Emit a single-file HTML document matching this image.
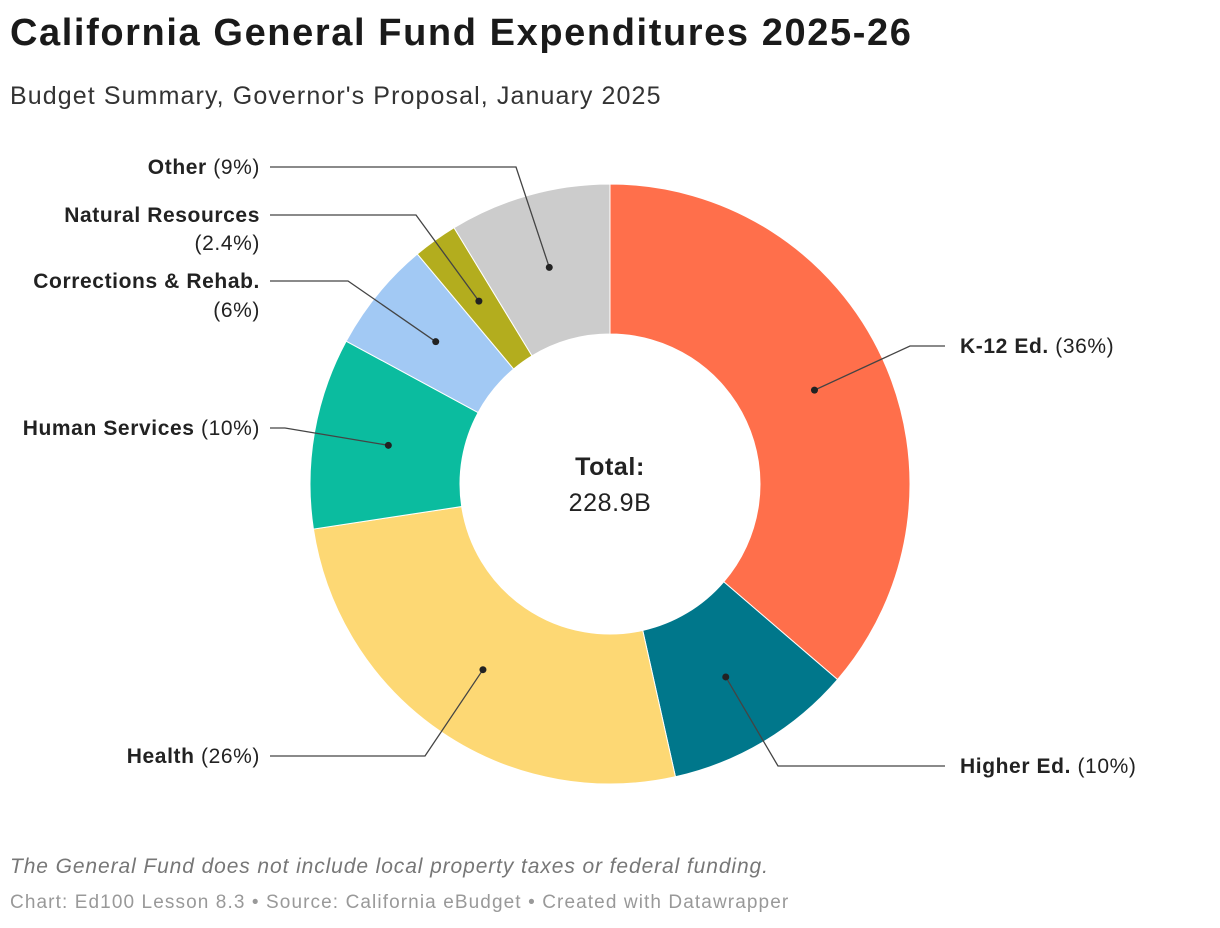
<!DOCTYPE html>
<html><head><meta charset="utf-8"><style>
body{margin:0;width:1220px;height:928px;background:#fff;font-family:"Liberation Sans",Arial,sans-serif;overflow:hidden}
h1{position:absolute;left:10px;top:12px;margin:0;font-size:38px;font-weight:bold;color:#1a1a1a;letter-spacing:1.6px}
.sub{position:absolute;left:10px;top:82px;font-size:25px;color:#333;letter-spacing:1.1px}
.note{position:absolute;left:10px;top:855px;font-size:21px;font-style:italic;color:#777;letter-spacing:0.9px}
.src{position:absolute;left:10px;top:892px;font-size:19px;color:#999;letter-spacing:1.1px}
svg{position:absolute;left:0;top:0}
svg text{letter-spacing:0.6px}
</style></head><body>
<h1>California General Fund Expenditures 2025-26</h1>
<div class="sub">Budget Summary, Governor's Proposal, January 2025</div>
<svg id="chart" width="1220" height="928"></svg>
<div class="note">The General Fund does not include local property taxes or federal funding.</div>
<div class="src">Chart: Ed100 Lesson 8.3 • Source: California eBudget • Created with Datawrapper</div>
<script>
const categories=["K-12 Ed.","Higher Ed.","Health","Human Services","Corrections & Rehab.","Natural Resources","Other"];
const values=[36.3,10.2,26.1,10.3,6.0,2.4,8.7];
const pctLabels=["(36%)","(10%)","(26%)","(10%)","(6%)","(2.4%)","(9%)"];
const colors=["#ff6f4b","#00778b","#fdd874","#0bbc9f","#a2c9f4","#b3ad1e","#cccccc"];
const svg=document.getElementById('chart');const NS="http://www.w3.org/2000/svg";
const cx=610,cy=484,R=300,r=150,rm=225;
const total=values.reduce((a,b)=>a+b,0);
function pt(a,rad){return [cx+rad*Math.sin(a),cy-rad*Math.cos(a)];}
const layout=[
 {ex:910,ey:346,tx:945,side:'r',ly:[346]},
 {ex:778,ey:766,tx:945,side:'r',ly:[766]},
 {ex:425,ey:756,tx:270,side:'l',ly:[756]},
 {ex:285,ey:428,tx:270,side:'l',ly:[428]},
 {ex:348,ey:281,tx:270,side:'l',ly:[281,310],wrap:true},
 {ex:416,ey:215,tx:270,side:'l',ly:[215,243],wrap:true},
 {ex:516,ey:167,tx:270,side:'l',ly:[167]}];
let acc=0;
values.forEach((v,i)=>{
 const a0=acc/total*2*Math.PI;acc+=v;const a1=acc/total*2*Math.PI;
 const [x0,y0]=pt(a0,R),[x1,y1]=pt(a1,R),[x2,y2]=pt(a1,r),[x3,y3]=pt(a0,r);
 const lg=(a1-a0)>Math.PI?1:0;
 const p=document.createElementNS(NS,'path');
 p.setAttribute('d',`M${x0},${y0}A${R},${R} 0 ${lg} 1 ${x1},${y1}L${x2},${y2}A${r},${r} 0 ${lg} 0 ${x3},${y3}Z`);
 p.setAttribute('fill',colors[i]);p.setAttribute('stroke','#fff');p.setAttribute('stroke-width','1');
 
 
 svg.appendChild(p);
 const am=(a0+a1)/2;const [dx,dy]=pt(am,rm);const L=layout[i];
 const pl=document.createElementNS(NS,'polyline');
 pl.setAttribute('points',`${dx},${dy} ${L.ex},${L.ey} ${L.tx},${L.ey}`);
 pl.setAttribute('fill','none');pl.setAttribute('stroke','#444');pl.setAttribute('stroke-width','1.3');
 
 
 svg.appendChild(pl);
 const c=document.createElementNS(NS,'circle');c.setAttribute('cx',dx);c.setAttribute('cy',dy);c.setAttribute('r',3.5);c.setAttribute('fill','#222');
 
 
 svg.appendChild(c);
 const t=document.createElementNS(NS,'text');
 t.setAttribute('font-size','21');t.setAttribute('fill','#222');
 
 
 const anchor=L.side==='l'?'end':'start';const x=L.side==='l'?260:960;
 t.setAttribute('text-anchor',anchor);
 if(L.wrap){
  const s1=document.createElementNS(NS,'tspan');s1.setAttribute('x',x);s1.setAttribute('y',L.ly[0]+7);s1.setAttribute('font-weight','bold');s1.textContent=categories[i];t.appendChild(s1);
  const s2=document.createElementNS(NS,'tspan');s2.setAttribute('x',x);s2.setAttribute('y',L.ly[1]+7);s2.textContent=pctLabels[i];t.appendChild(s2);
 }else{
  t.setAttribute('x',x);t.setAttribute('y',L.ly[0]+7);
  const s1=document.createElementNS(NS,'tspan');s1.setAttribute('font-weight','bold');s1.textContent=categories[i];t.appendChild(s1);
  const s2=document.createElementNS(NS,'tspan');s2.textContent=' '+pctLabels[i];t.appendChild(s2);
 }
 svg.appendChild(t);
});
const t1=document.createElementNS(NS,'text');t1.setAttribute('x',cx);t1.setAttribute('y',475);t1.setAttribute('text-anchor','middle');t1.setAttribute('font-size','25');t1.setAttribute('font-weight','bold');t1.setAttribute('fill','#222');t1.textContent='Total:';


svg.appendChild(t1);
const t2=document.createElementNS(NS,'text');t2.setAttribute('x',cx);t2.setAttribute('y',511);t2.setAttribute('text-anchor','middle');t2.setAttribute('font-size','25');t2.setAttribute('fill','#222');t2.textContent='228.9B';


svg.appendChild(t2);
</script>
</body></html>
